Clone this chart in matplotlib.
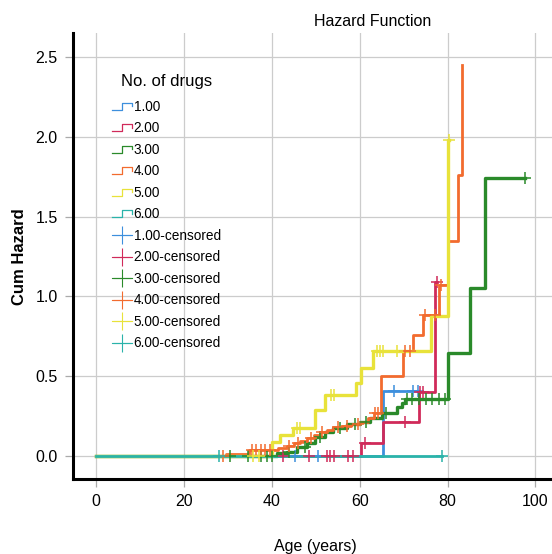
import numpy as np
import matplotlib
matplotlib.use("Agg")
import matplotlib.pyplot as plt
from matplotlib.lines import Line2D
from matplotlib.legend_handler import HandlerBase

NARROW = ["Liberation Sans Narrow", "Liberation Sans", "DejaVu Sans"]

groups = ["1.00", "2.00", "3.00", "4.00", "5.00", "6.00"]
colors = ["#3d8fdd", "#d02a5a", "#2a8a2a", "#f26b2e", "#e8e23a", "#2ab3aa"]

# event times / cumulative hazard after each event / censored times
t1 = [65.2]
h1 = [0.41]
c1 = [45.3, 50.5, 67.8, 72.1, 73.2]

t2 = [60.3, 65.2, 73.4, 77.1]
h2 = [0.083, 0.215, 0.40, 1.09]
c2 = [42.5, 48.5, 52.5, 53.3, 54.1, 57.3, 58.5, 61.1, 70.2, 73.8, 74.3, 77.5]

t3 = [41.1, 43.4, 45.7, 47.9, 49.8, 52.1, 54.0, 57.0, 60.1, 62.3, 65.0, 68.4,
      69.6, 70.3, 80.0, 85.2, 88.5]
h3 = [0.017, 0.027, 0.058, 0.079, 0.121, 0.152, 0.173, 0.20, 0.215, 0.236, 0.267,
      0.31, 0.33, 0.36, 0.645, 1.05, 1.74]
c3 = [30.4, 34.5, 37.5, 39.0, 40.0, 44.0, 47.5, 51.0, 55.5, 59.0, 61.5, 66.0,
      70.8, 71.9, 73.4, 75.0, 76.5, 78.0, 79.3, 97.6]

t4 = [29.5, 34.7, 41.5, 43.5, 45.0, 46.5, 48.0, 49.5, 51.0, 52.5, 54.0, 56.0,
      58.0, 60.0, 62.0, 63.3, 64.9, 69.9, 72.2, 74.3, 78.0, 80.2, 82.3, 83.2]
h4 = [0.015, 0.04, 0.05, 0.065, 0.08, 0.095, 0.11, 0.13, 0.15, 0.165, 0.18, 0.19,
      0.20, 0.215, 0.24, 0.27, 0.50, 0.66, 0.76, 0.885, 1.07, 1.35, 1.76, 2.45]
c4 = [28.8, 35.5, 36.5, 37.5, 38.5, 39.5, 44.0, 46.0, 49.0, 51.5, 55.0, 57.0,
      59.5, 63.5, 64.2, 70.3, 71.5, 74.8, 77.2, 78.6]

t5 = [40.1, 41.9, 44.9, 49.8, 52.1, 59.1, 60.4, 63.1, 76.2, 80.2]
h5 = [0.085, 0.13, 0.175, 0.29, 0.38, 0.46, 0.55, 0.66, 0.88, 1.98]
c5 = [35.8, 37.0, 45.8, 46.4, 53.5, 54.2, 63.9, 64.6, 65.3, 68.5, 80.3]

t6 = []
h6 = []
c6 = [28.0, 78.7]

times = [t1, t2, t3, t4, t5, t6]
hazards = [h1, h2, h3, h4, h5, h6]
censored = [c1, c2, c3, c4, c5, c6]


class StepHandler(HandlerBase):
    def create_artists(self, legend, orig_handle, xdescent, ydescent,
                       width, height, fontsize, trans):
        xs = np.array([0, 0.5, 0.5, 1, 1]) * width - xdescent
        ys = np.array([0.1, 0.1, 0.85, 0.85, 0.5]) * height - ydescent
        line = Line2D(xs, ys, color=orig_handle.get_color(), lw=0.9)
        line.set_transform(trans)
        return [line]


W, H = 552, 554
fig = plt.figure(figsize=(W / 100, H / 100), dpi=100)

# axes runs past the right edge of the picture, like the cropped original
left, right, bottom, top = 73, 620, 479, 33
ax = fig.add_axes([left / W, (H - bottom) / H, (right - left) / W, (bottom - top) / H])
px_x = 4.395
px_y = 159.6
ax.set_xlim((left - 96) / px_x, (right - 96) / px_x)
ax.set_ylim((456 - bottom) / px_y, (456 - top) / px_y)

ax.set_xticks([0, 20, 40, 60, 80, 100])
ax.set_yticks([0.0, 0.5, 1.0, 1.5, 2.0, 2.5])
ax.set_yticklabels(["0.0", "0.5", "1.0", "1.5", "2.0", "2.5"])
ax.grid(True, color="#cccccc", lw=0.9)
ax.set_axisbelow(True)
ax.tick_params(length=6, width=0.9, color="#aaaaaa", pad=5, labelsize=11.5)
for lab in ax.get_xticklabels() + ax.get_yticklabels():
    lab.set_family(NARROW)
for s in ["top", "right"]:
    ax.spines[s].set_visible(False)
for s in ["left", "bottom"]:
    ax.spines[s].set_linewidth(2.2)
    ax.spines[s].set_color("black")

step_handles = []
cens_handles = []
for g, col, t, h, c in zip(groups, colors, times, hazards, censored):
    end = max(t[-1] if t else 0, c[-1] if c else 0)
    xs = [0] + t + [end]
    ys = [0] + h + [h[-1] if h else 0]
    lw = 2.4 if g in ("3.00", "5.00") else 2.0
    ax.step(xs, ys, where="post", color=col, lw=lw, zorder=3)
    vals = np.array([0] + h)
    cy = vals[np.searchsorted(t, c, side="right")]
    ax.plot(c, cy, ls="none", marker="+", ms=8, mew=1.1, color=col, zorder=4)
    step_handles.append(Line2D([], [], color=col, lw=0.9))
    cens_handles.append(Line2D([], [], color=col, lw=0.8, marker="+", ms=13, mew=0.8))

handles = step_handles + cens_handles
labels = groups + [g + "-censored" for g in groups]
leg = ax.legend(handles, labels, handler_map={h: StepHandler() for h in step_handles},
                loc="upper left", bbox_to_anchor=(105 / W, (H - 67) / H),
                bbox_transform=fig.transFigure, frameon=False,
                title="No. of drugs", prop={"family": NARROW, "size": 9.8},
                handlelength=1.45, handletextpad=0.15, labelspacing=0.55,
                borderpad=0, numpoints=1)
leg.get_title().set_family(NARROW)
leg.get_title().set_fontsize(12)
leg._legend_box.sep = 8

fig.text(373 / W, 1 - 21 / H, "Hazard Function", ha="center", va="center",
         family=NARROW, fontsize=11.5)
fig.text(315 / W, 1 - 546 / H, "Age (years)", ha="center", va="center",
         family=NARROW, fontsize=11.5)
fig.text(20 / W, 1 - 257 / H, "Cum Hazard", ha="center", va="center",
         rotation=90, family=["Liberation Sans", "DejaVu Sans"],
         fontweight="bold", fontsize=12)

fig.savefig("out.png", dpi=100)
